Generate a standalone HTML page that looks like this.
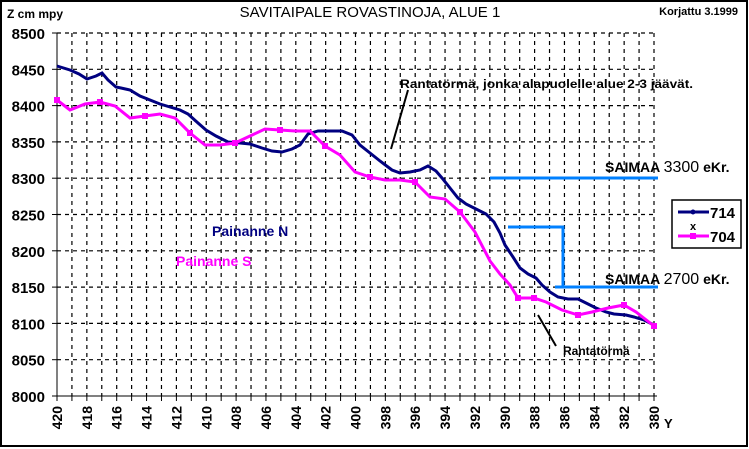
<!DOCTYPE html>
<html><head><meta charset="utf-8"><style>
html,body{margin:0;padding:0;background:#fff;}
svg{display:block;font-family:"Liberation Sans",Arial,sans-serif;}
</style></head><body>
<svg width="749" height="449" viewBox="0 0 749 449" xmlns="http://www.w3.org/2000/svg">
<rect x="1" y="1" width="746" height="445" fill="#fff" stroke="#000" stroke-width="2"/>
<text x="7" y="18" font-size="12" font-weight="bold">Z cm mpy</text>
<text x="370" y="17" font-size="15" text-anchor="middle">SAVITAIPALE ROVASTINOJA, ALUE 1</text>
<text x="738" y="15" font-size="11" font-weight="bold" text-anchor="end">Korjattu 3.1999</text>
<g id="grid" stroke="#000" stroke-width="1.2" stroke-dasharray="4,4">
</g>
<g font-size="15" font-weight="bold" text-anchor="end" id="ylab"></g>
<g font-size="14" font-weight="bold" id="xlab"></g>
<line x1="57" y1="33" x2="57" y2="396" stroke="#000"/>
<line x1="57" y1="396" x2="657" y2="396" stroke="#000"/>
<text x="664" y="428" font-size="13" font-weight="bold">Y</text>
<polyline fill="none" stroke="#0080ff" stroke-width="3" points="490,178 658,178"/>
<polyline fill="none" stroke="#0080ff" stroke-width="3" points="508,227 563,227 563,287 555,287 658,287"/>
<text x="605" y="172" font-size="14" font-weight="bold">SAIMAA <tspan font-size="16" font-weight="normal">3300</tspan> eKr.</text>
<text x="605" y="284" font-size="14" font-weight="bold">SAIMAA <tspan font-size="16" font-weight="normal">2700</tspan> eKr.</text>
<text x="400" y="88" font-size="12" font-weight="bold" textLength="293" lengthAdjust="spacingAndGlyphs">Rantatörmä, jonka alapuolelle alue 2-3 jäävät.</text>
<line x1="408" y1="90" x2="391" y2="149" stroke="#000" stroke-width="2"/>
<line x1="538" y1="315" x2="556" y2="346" stroke="#000" stroke-width="2"/>
<text x="563" y="355" font-size="12" font-weight="bold">Rantatörmä</text>
<text x="212" y="236" font-size="14" font-weight="bold" fill="#000080">Painanne N</text>
<text x="176" y="266" font-size="14" font-weight="bold" fill="#ff00ff">Painanne S</text>
<polyline fill="none" stroke="#000080" stroke-width="3" points="57,66 70,70 79,74 87,79 96,76 102,73 108,80 116,87 121,88 130,90 140,96 150,100 160,104 170,107 180,110 188,114 198,123 206,130 216,136 228,142 240,143 250,144 262,148 272,151 282,152 292,149 300,145 308,134 318,131 330,131 342,131 352,135 360,145 370,153 380,161 392,170 400,173 410,172 420,170 428,166 436,171 442,178 450,188 458,198 466,204 476,209 486,214 494,222 500,233 505,245 513,257 520,268 528,274 536,278 542,285 550,292 558,297 568,299 578,299 586,303 596,308 606,312 614,314 626,315 634,317 644,320 654,325"/>
<polyline fill="none" stroke="#ff00ff" stroke-width="3" points="57,100 70,110 85,104 100,102 115,106 130,118 145,116 160,114 175,118 190,133 205,145 220,145 235,143 250,136 265,129 280,130 295,131 310,131 325,146 340,155 355,172 370,177 385,180 400,180 415,182 430,197 445,199 460,212 475,232 490,261 500,274 510,285 518,298 534,298 546,302 562,310 578,315 592,312 608,308 624,305 636,312 654,326"/>
<g fill="#ff00ff"><rect x="54" y="97" width="6" height="6"/><rect x="97" y="99" width="6" height="6"/><rect x="142" y="113" width="6" height="6"/><rect x="187" y="130" width="6" height="6"/><rect x="232" y="140" width="6" height="6"/><rect x="277" y="127" width="6" height="6"/><rect x="322" y="143" width="6" height="6"/><rect x="367" y="174" width="6" height="6"/><rect x="412" y="179" width="6" height="6"/><rect x="457" y="209" width="6" height="6"/><rect x="515" y="295" width="6" height="6"/><rect x="531" y="295" width="6" height="6"/><rect x="575" y="312" width="6" height="6"/><rect x="621" y="302" width="6" height="6"/><rect x="651" y="323" width="6" height="6"/></g>
<rect x="672" y="200" width="69" height="48" fill="#fff" stroke="#000" stroke-width="1.5"/>
<line x1="678" y1="212" x2="709" y2="212" stroke="#000080" stroke-width="3"/>
<circle cx="693" cy="212" r="2.5" fill="#000080"/>
<text x="710" y="218" font-size="15" font-weight="bold">714</text>
<text x="690" y="230" font-size="11" font-weight="bold">x</text>
<line x1="678" y1="236" x2="709" y2="236" stroke="#ff00ff" stroke-width="3"/>
<rect x="690" y="233" width="6" height="6" fill="#ff00ff"/>
<text x="710" y="242" font-size="15" font-weight="bold">704</text>
<script>
var ns="http://www.w3.org/2000/svg",g=document.getElementById('grid'),yl=document.getElementById('ylab'),xl=document.getElementById('xlab');
function el(p,t,a,txt){var e=document.createElementNS(ns,t);for(var k in a)e.setAttribute(k,a[k]);if(txt)e.textContent=txt;p.appendChild(e);return e;}
var svg=document.querySelector('svg');
for(var i=0;i<10;i++){var y=33+i*36.3;el(g,'line',{x1:57,y1:y,x2:657,y2:y});}
for(var i=0;i<=10;i++){var y=33+i*36.3;el(yl,'text',{x:45,y:y+6},String(8500-50*i));el(svg,'line',{x1:52,y1:y,x2:57,y2:y,stroke:'#000'});}
for(var j=1;j<=40;j++){var x=57+j*14.925;el(g,'line',{x1:x,y1:33,x2:x,y2:396});}
for(var j=0;j<=40;j++){var x=57+j*14.925;el(svg,'line',{x1:x,y1:396,x2:x,y2:401,stroke:'#000'});if(j%2==0){el(xl,'text',{x:0,y:0,'text-anchor':'end',transform:'translate('+(x+5)+',406) rotate(-90)'},String(420-j));}}
</script>
</svg>
</body></html>
